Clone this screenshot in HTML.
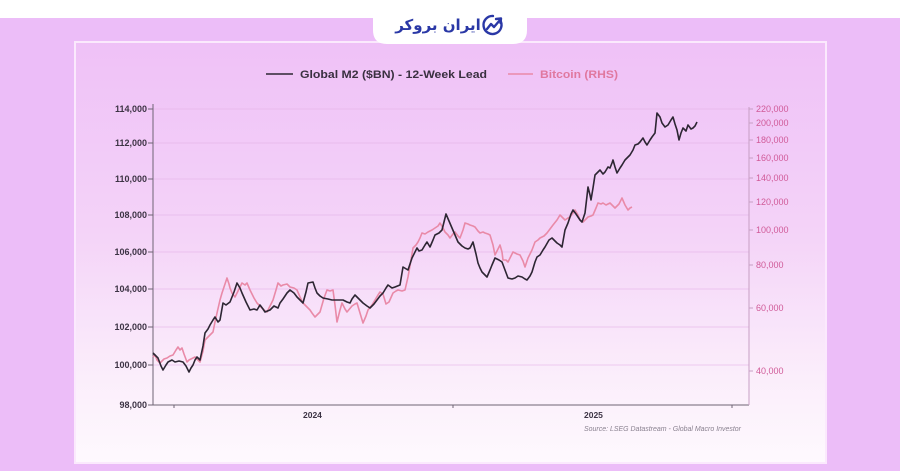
<!DOCTYPE html>
<html><head><meta charset="utf-8"><style>
html,body{margin:0;padding:0;width:900px;height:471px;overflow:hidden;background:#ffffff;}
#wrap{position:relative;width:900px;height:471px;}
svg{position:absolute;left:0;top:0;}
#logo{position:absolute;left:393px;top:12px;width:90px;height:26px;direction:rtl;text-align:center;font-family:"DejaVu Sans",sans-serif;font-weight:bold;font-size:15px;line-height:26px;color:#2a38a6;white-space:nowrap;}
</style></head><body><div id="wrap">
<svg width="900" height="471" viewBox="0 0 900 471" xmlns="http://www.w3.org/2000/svg">
<defs>
<linearGradient id="cg" x1="0" y1="0" x2="0" y2="1">
<stop offset="0" stop-color="#efc1f7"/>
<stop offset="0.45" stop-color="#f4d3f8"/>
<stop offset="0.8" stop-color="#fbeefb"/>
<stop offset="1" stop-color="#fef9fe"/>
</linearGradient>
</defs>
<rect x="0" y="0" width="900" height="471" fill="#ffffff"/>
<rect x="0" y="18" width="900" height="453" fill="#ecbdf8"/>
<!-- card -->
<rect x="75" y="42" width="751" height="421" fill="url(#cg)" stroke="#fbe9fd" stroke-width="2"/>
<!-- logo tab -->
<path d="M373,0 L527,0 L527,30 Q527,44 513,44 L387,44 Q373,44 373,30 Z" fill="#ffffff"/>
<!-- logo icon -->
<g fill="none" stroke="#2a38a6" stroke-width="2.4" stroke-linecap="round" stroke-linejoin="round">
<path d="M500,20 A9,9 0 1 1 493,16"/>
<path d="M487,29 L491,24 L494,27 L500,20"/>
<path d="M496,19 L501,18.5 L500.5,23"/>
</g>
<!-- gridlines -->
<g stroke="#e4b2e8" stroke-width="1" opacity="0.6">
<line x1="153" y1="109" x2="749" y2="109"/>
<line x1="153" y1="143" x2="749" y2="143"/>
<line x1="153" y1="179" x2="749" y2="179"/>
<line x1="153" y1="215" x2="749" y2="215"/>
<line x1="153" y1="252" x2="749" y2="252"/>
<line x1="153" y1="289" x2="749" y2="289"/>
<line x1="153" y1="327" x2="749" y2="327"/>
<line x1="153" y1="365" x2="749" y2="365"/>
</g>
<!-- axes -->
<g stroke="#6e6474" stroke-width="1">
<line x1="153" y1="104" x2="153" y2="405"/>
<line x1="153" y1="405" x2="749" y2="405"/>
<line x1="148" y1="109" x2="153" y2="109"/>
<line x1="148" y1="143" x2="153" y2="143"/>
<line x1="148" y1="179" x2="153" y2="179"/>
<line x1="148" y1="215" x2="153" y2="215"/>
<line x1="148" y1="252" x2="153" y2="252"/>
<line x1="148" y1="289" x2="153" y2="289"/>
<line x1="148" y1="327" x2="153" y2="327"/>
<line x1="148" y1="365" x2="153" y2="365"/>
<line x1="148" y1="405" x2="153" y2="405"/>
<line x1="174" y1="405" x2="174" y2="408"/>
<line x1="453" y1="405" x2="453" y2="408"/>
<line x1="732" y1="405" x2="732" y2="408"/>
</g>
<g stroke="#c79fc4" stroke-width="1">
<line x1="749" y1="107" x2="749" y2="405"/>
<line x1="749" y1="109" x2="753" y2="109"/>
<line x1="749" y1="123" x2="753" y2="123"/>
<line x1="749" y1="140" x2="753" y2="140"/>
<line x1="749" y1="158" x2="753" y2="158"/>
<line x1="749" y1="178" x2="753" y2="178"/>
<line x1="749" y1="202" x2="753" y2="202"/>
<line x1="749" y1="230" x2="753" y2="230"/>
<line x1="749" y1="265" x2="753" y2="265"/>
<line x1="749" y1="308" x2="753" y2="308"/>
<line x1="749" y1="371" x2="753" y2="371"/>
</g>
<!-- left labels -->
<g font-family="Liberation Sans, sans-serif" font-size="9" font-weight="bold" fill="#3c3344" text-anchor="end">
<text x="147" y="112">114,000</text>
<text x="147" y="146">112,000</text>
<text x="147" y="182">110,000</text>
<text x="147" y="218">108,000</text>
<text x="147" y="255">106,000</text>
<text x="147" y="292">104,000</text>
<text x="147" y="330">102,000</text>
<text x="147" y="368">100,000</text>
<text x="147" y="408">98,000</text>
</g>
<!-- right labels -->
<g font-family="Liberation Sans, sans-serif" font-size="9" fill="#d05a98">
<text x="756" y="112">220,000</text>
<text x="756" y="126">200,000</text>
<text x="756" y="143">180,000</text>
<text x="756" y="161">160,000</text>
<text x="756" y="181">140,000</text>
<text x="756" y="205">120,000</text>
<text x="756" y="233">100,000</text>
<text x="756" y="268">80,000</text>
<text x="756" y="311">60,000</text>
<text x="756" y="374">40,000</text>
</g>
<!-- x labels -->
<g font-family="Liberation Sans, sans-serif" font-size="8.5" font-weight="bold" fill="#3c3344">
<text x="303" y="418">2024</text>
<text x="584" y="418">2025</text>
</g>
<text x="584" y="431" font-family="Liberation Sans, sans-serif" font-size="7" font-style="italic" fill="#8a8290" textLength="157" lengthAdjust="spacingAndGlyphs">Source: LSEG Datastream - Global Macro Investor</text>
<!-- legend -->
<line x1="266" y1="74" x2="293" y2="74" stroke="#2d2633" stroke-width="1.5"/>
<text x="300" y="78" font-family="Liberation Sans, sans-serif" font-size="11" font-weight="bold" fill="#3a3040" textLength="187" lengthAdjust="spacingAndGlyphs">Global M2 ($BN) - 12-Week Lead</text>
<line x1="508" y1="74" x2="533" y2="74" stroke="#e98aa8" stroke-width="1.5"/>
<text x="540" y="78" font-family="Liberation Sans, sans-serif" font-size="11" font-weight="bold" fill="#e0789f" textLength="78" lengthAdjust="spacingAndGlyphs">Bitcoin (RHS)</text>
<!-- bitcoin series -->
<polyline fill="none" stroke="#e98aa8" stroke-width="1.6" stroke-linejoin="round" points="153,357 155,355 157,360 160,363 162,361 164,359 167,358 170,356 173,355 176,350 178,347 180,350 182,348 184,354 187,362 189,360 191,359 195,357 198,360 200,362 203,351 205,340 209,336 211,334 213,332 215,322 217,313 220,300 222,293 225,284 227,278 229,284 230,288 232,293 235,297 237,293 239,289 242,283 245,285 247,283 250,290 254,298 257,303 259,305 262,308 264,310 267,312 270,306 273,300 276,290 278,283 281,286 283,285 287,284 290,287 294,288 297,290 300,297 303,303 307,307 310,310 312,313 315,317 318,314 320,312 324,298 327,290 330,291 333,290 335,305 337,322 340,310 342,303 345,309 347,312 352,306 355,304 357,303 360,313 363,323 366,316 368,310 372,305 375,300 378,295 380,292 383,294 386,304 389,302 393,293 396,291 398,290 402,291 405,290 408,277 411,260 413,248 416,245 418,242 420,238 422,233 425,234 428,232 432,230 435,228 438,226 440,223 443,228 445,232 448,235 450,238 453,234 455,232 458,236 460,238 463,230 465,223 468,224 470,225 473,226 475,227 478,231 480,233 483,232 485,233 488,234 490,235 493,245 495,255 498,249 500,245 502,252 503,260 506,260 508,262 511,256 513,252 517,254 520,255 523,261 525,267 528,258 532,250 535,242 538,240 540,238 544,236 547,233 550,229 553,225 557,220 560,215 563,218 565,220 568,218 570,217 573,213 575,210 578,215 580,220 583,222 586,219 588,217 591,216 593,215 596,208 598,203 601,204 603,203 606,205 608,204 610,203 613,206 615,208 619,204 622,198 625,205 628,210 630,208 632,207"/>
<!-- M2 series -->
<polyline fill="none" stroke="#2d2633" stroke-width="1.6" stroke-linejoin="round" points="153,353 156,356 158,358 161,366 163,370 166,365 168,362 172,360 175,362 179,361 183,362 186,366 189,372 191,368 193,365 195,360 197,357 200,360 203,346 205,333 208,329 210,325 213,320 215,317 218,322 220,320 223,303 226,305 230,302 234,292 237,283 240,288 242,293 246,302 250,310 254,309 257,310 260,305 263,309 265,312 270,310 274,306 278,308 280,303 283,299 287,293 290,290 294,293 297,297 300,300 303,303 306,292 308,283 313,282 315,288 317,293 320,296 323,298 328,299 332,300 337,300 343,300 347,302 350,303 352,299 355,295 359,299 363,303 367,306 370,308 374,304 377,300 380,296 383,293 386,288 388,285 392,288 395,287 400,285 403,267 408,270 410,264 412,258 415,252 417,248 419,251 422,250 425,245 427,242 430,247 433,240 435,235 439,233 442,230 444,222 446,214 449,221 452,228 455,235 458,242 462,246 465,248 468,249 470,248 473,242 476,254 478,263 480,268 482,272 485,275 487,277 490,270 492,265 495,258 499,260 502,262 505,270 508,278 512,279 515,278 518,276 522,277 525,279 527,280 530,276 532,272 535,262 537,257 540,255 543,250 545,247 549,240 552,238 555,241 557,243 560,245 562,247 565,230 568,223 571,214 573,210 576,214 578,217 580,220 582,222 585,213 587,196 588,187 590,195 591,200 593,188 595,175 598,172 600,170 603,174 605,172 608,167 610,168 612,163 613,160 615,167 617,173 620,168 622,165 625,160 627,158 630,155 633,150 635,145 638,144 640,142 643,138 645,142 647,145 650,140 652,137 655,133 657,113 660,117 662,123 665,127 668,125 671,120 673,117 675,124 677,130 679,140 681,133 683,128 686,131 688,125 691,129 693,128 695,126 697,122"/>
</svg>
<div id="logo">ایران بروکر</div>
</div></body></html>
